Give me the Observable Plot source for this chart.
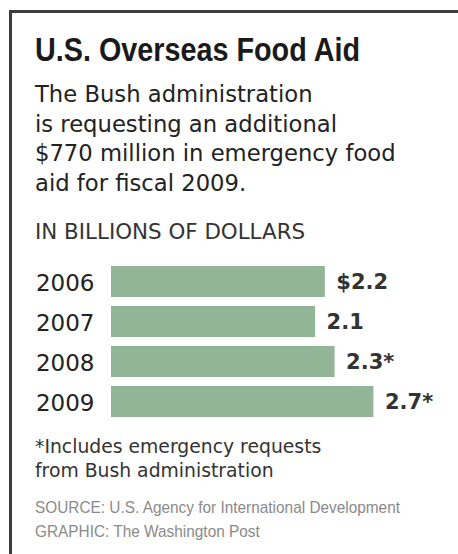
<!DOCTYPE html>
<html>
<head>
<meta charset="utf-8">
<script src="https://cdn.jsdelivr.net/npm/d3@7"></script>
<script src="https://cdn.jsdelivr.net/npm/@observablehq/plot@0.6"></script>
<style>
  html, body { margin: 0; padding: 0; background: #fff; }
  #page { position: relative; width: 458px; height: 554px; overflow: hidden; background: #fff; }
  #frame { position: absolute; left: 9px; top: 10px; width: 460px; height: 560px;
           border-left: 3px solid #3d3d3d; border-top: 3px solid #3d3d3d; }
  .t { position: absolute; left: 35px; white-space: nowrap; transform-origin: 0 0; }
  #title { top: 31px; font-family: "Liberation Sans", Arial, sans-serif;
           font-weight: bold; font-size: 33px; line-height: 38px; color: #1a1a1a; }
  #subtitle { top: 80px; font-family: "DejaVu Sans", sans-serif; font-size: 22.7px; line-height: 29.7px; color: #222; }
  #unit { top: 220px; font-family: "DejaVu Sans", sans-serif; font-size: 21.4px; line-height: 24px; color: #333; }
  #note { top: 435px; font-family: "DejaVu Sans", sans-serif; font-size: 18.8px; line-height: 24px; color: #333; }
  #source { top: 496px; font-family: "Liberation Sans", Arial, sans-serif;
            font-size: 17px; line-height: 23.5px; color: #8a8a8a; }
  #chart { position: absolute; left: 0; top: 255px; }
</style>
</head>
<body>
<div id="page">
  <div id="frame"></div>
  <div class="t" id="title" data-w="325">U.S. Overseas Food Aid</div>
  <div class="t" id="subtitle">The Bush administration<br>is requesting an additional<br>$770 million in emergency food<br>aid for fiscal 2009.</div>
  <div class="t" id="unit">IN BILLIONS OF DOLLARS</div>
  <div id="chart"></div>
  <div class="t" id="note">*Includes emergency requests<br>from Bush administration</div>
  <div class="t" id="source" data-w="365">SOURCE: U.S. Agency for International Development<br>GRAPHIC: The Washington Post</div>
</div>
<script>
const years = ["2006", "2007", "2008", "2009"];
const values = [2.2, 2.1, 2.3, 2.7];
const valueLabels = ["$2.2", "2.1", "2.3*", "2.7*"];

const data = years.map((year, i) => ({year, value: values[i], label: valueLabels[i]}));

const chart = Plot.plot({
  width: 458,
  height: 172,
  marginLeft: 111,
  marginRight: 55.4,
  marginTop: 0,
  marginBottom: 0,
  style: {fontFamily: "DejaVu Sans, sans-serif", color: "#222", background: "transparent", overflow: "visible"},
  x: {domain: [0, 3], axis: null},
  y: {domain: years, padding: 0.235, label: null},
  marks: [
    Plot.barX(data, {x: "value", y: "year", fill: "#93b597"}),
    Plot.axisY({tickSize: 0, tickPadding: 17, fontSize: 23, label: null, dy: 2}),
    Plot.text(data, {x: "value", y: "year", text: "label", dx: 11, textAnchor: "start",
                     fontWeight: "bold", fontSize: 21, fill: "#333"})
  ]
});
document.getElementById("chart").appendChild(chart);

// condense the narrow-font texts horizontally to the reference widths
document.querySelectorAll("[data-w]").forEach(el => {
  const w = el.getBoundingClientRect().width;
  const target = +el.dataset.w;
  if (w > 0) el.style.transform = `scaleX(${target / w})`;
});
</script>
</body>
</html>
